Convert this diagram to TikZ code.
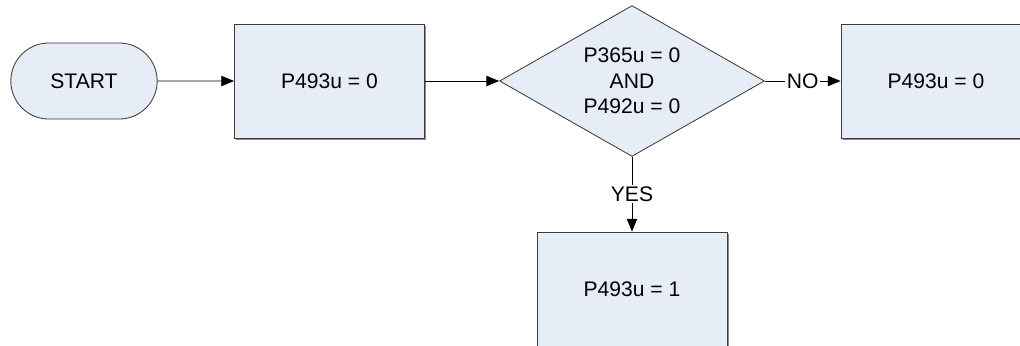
\documentclass[tikz,border=0pt]{standalone}
\usepackage{fontspec}
\setmainfont{Liberation Sans}
\usepackage{xcolor}
\usepackage{tikz}
\usetikzlibrary{positioning,arrows.meta,shapes.geometric,shapes.misc,shadows}

\definecolor{boxfill}{RGB}{231,237,247}
\definecolor{boxline}{RGB}{60,60,60}

\begin{document}
\begin{tikzpicture}[x=0.025cm, y=-0.025cm,
  font=\fontsize{15}{18}\selectfont,
  base/.style={draw=boxline, fill=boxfill, line width=0.6pt, inner sep=2pt, align=center},
  terminal/.style={base, rounded rectangle, minimum width=3.8cm, minimum height=1.9cm},
  process/.style={base, rectangle, minimum width=4.75cm, minimum height=2.85cm,
    drop shadow={shadow xshift=0.04cm, shadow yshift=-0.04cm, fill=black, opacity=0.45}},
  decision/.style={base, diamond, aspect=1.755, minimum width=6.62cm, minimum height=3.77cm},
  flow/.style={-{Triangle[length=0.32cm, width=0.26cm]}, line width=0.6pt},
  lbl/.style={fill=white, inner sep=1pt}]
% canvas 1020 x 345 px, y axis pointing down; right and lower boxes are cut by the frame
\useasboundingbox (0,0) rectangle (1020,345);
\clip (0,0) rectangle (1020,345);
\node[terminal] (start) at (84,81) {START};
\node[process] (clear) at (329.5,81) {P493u = 0};
\node[decision] (test) at (632,81) {P365u = 0\\AND\\P492u = 0};
\node[process] (keep) at (936,81) {P493u = 0};
\node[process] (set) at (632,289) {P493u = 1};
\draw[flow] (start) -- (clear);
\draw[flow] (clear) -- (test);
\draw[flow] (test.east) -- node[lbl] {NO} (keep.west);
\draw[flow] (test.south) -- node[lbl] {YES} (set.north);
\end{tikzpicture}
\end{document}
